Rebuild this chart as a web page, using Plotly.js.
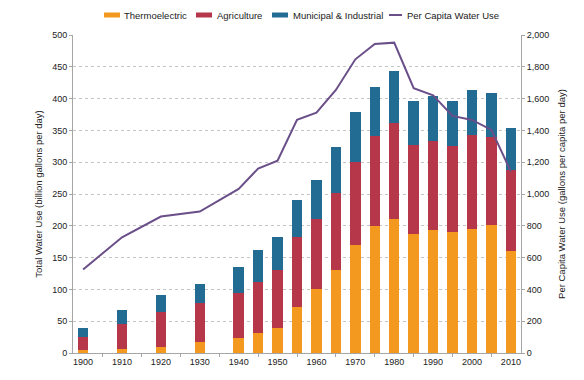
<!DOCTYPE html>
<html>
<head>
<meta charset="utf-8">
<script src="https://cdn.plot.ly/plotly-3.0.1.min.js"></script>
<style>html,body{margin:0;padding:0;background:#fff;}#chart{width:584px;height:380px;}</style>
</head>
<body>
<div id="chart"></div>
<script>
// Data
const years = [1900, 1910, 1920, 1930, 1940, 1945, 1950, 1955, 1960, 1965, 1970, 1975, 1980, 1985, 1990, 1995, 2000, 2005, 2010];
const thermoelectric = [5, 7, 9, 18, 23, 31, 40, 72, 100, 130, 170, 200, 210, 187, 194, 191, 195, 201, 161];
const agricultureTop = [25, 46, 64, 78, 94, 112, 130, 183, 211, 251, 301, 341, 362, 327, 333, 326, 342, 339, 287];
const totalUse = [40, 67, 91, 109, 136, 162, 183, 241, 272, 324, 379, 419, 444, 397, 404, 397, 413, 409, 354];
const perCapita = [525, 728, 858, 890, 1032, 1160, 1210, 1466, 1512, 1654, 1847, 1943, 1952, 1665, 1621, 1491, 1466, 1403, 1141];
const decadeTicks = [1900, 1910, 1920, 1930, 1940, 1950, 1960, 1970, 1980, 1990, 2000, 2010];
const seriesNames = ['Thermoelectric', 'Agriculture', 'Municipal & Industrial', 'Per Capita Water Use'];
const seriesColors = ['#F4991F', '#B6374A', '#226B92', '#6A4F89'];

const agriculture = agricultureTop.map((v, i) => v - thermoelectric[i]);
const municipal = totalUse.map((v, i) => v - agricultureTop[i]);

const fam = 'Liberation Sans, Arial, sans-serif';
const txt = '#222';
const barWidth = 2.7;
const W = 584, H = 380, M = {l: 73, r: 63, t: 35, b: 27};
const pw = W - M.l - M.r, ph = H - M.t - M.b;
const px = x => (x - M.l) / pw;
const py = y => (H - M.b - y) / ph;

const traces = [
  {type: 'bar', name: seriesNames[0], x: years, y: thermoelectric, width: barWidth, marker: {color: seriesColors[0]}},
  {type: 'bar', name: seriesNames[1], x: years, y: agriculture, width: barWidth, marker: {color: seriesColors[1]}},
  {type: 'bar', name: seriesNames[2], x: years, y: municipal, width: barWidth, marker: {color: seriesColors[2]}},
  {type: 'scatter', mode: 'lines', name: seriesNames[3], x: years, y: perCapita, yaxis: 'y2', line: {color: seriesColors[3], width: 2}}
];

// Custom legend (swatch + label), laid out in pixels above the plot
const legendSwatchX = [104, 196, 272, 389];
const legendTextX = [122, 215, 291, 405];
const legendY = 15;
const shapes = [], annotations = [];
seriesNames.forEach((name, i) => {
  if (i < 3) {
    shapes.push({type: 'rect', xref: 'paper', yref: 'paper', x0: px(legendSwatchX[i]), x1: px(legendSwatchX[i] + 16),
                 y0: py(legendY - 2.5), y1: py(legendY + 2.5), fillcolor: seriesColors[i], line: {width: 0}});
  } else {
    shapes.push({type: 'line', xref: 'paper', yref: 'paper', x0: px(legendSwatchX[i]), x1: px(legendSwatchX[i] + 13),
                 y0: py(legendY), y1: py(legendY), line: {color: seriesColors[i], width: 2}});
  }
  annotations.push({xref: 'paper', yref: 'paper', x: px(legendTextX[i]), y: py(legendY), xanchor: 'left', yanchor: 'middle',
                    text: name, showarrow: false, font: {family: fam, size: 9.5, color: txt}});
});

const layout = {
  width: W, height: H,
  margin: M,
  paper_bgcolor: '#fff', plot_bgcolor: '#fff',
  barmode: 'stack',
  font: {family: fam, size: 9, color: txt},
  showlegend: false,
  shapes: shapes,
  annotations: annotations,
  xaxis: {type: 'linear', range: [1897.4, 2012.6], tickvals: decadeTicks, ticktext: decadeTicks.map(String),
          ticks: '', showline: true, linecolor: '#a6a6a6', linewidth: 1, showgrid: false, zeroline: false,
          tickfont: {family: fam, size: 9, color: txt},
          minor: {tick0: 1905, dtick: 10, ticks: 'outside', ticklen: 3, tickcolor: '#a6a6a6', showgrid: false}},
  yaxis: {range: [0, 500], dtick: 50, showline: true, linecolor: '#a6a6a6', linewidth: 1,
          ticks: 'outside', ticklen: 3, tickcolor: '#a6a6a6',
          showgrid: true, gridcolor: '#c4c4c4', griddash: 'dot', gridwidth: 1, zeroline: false,
          tickfont: {family: fam, size: 9, color: txt},
          title: {text: 'Total Water Use (billion gallons per day)', font: {family: fam, size: 9.5, color: txt}, standoff: 7}},
  yaxis2: {range: [0, 2000], dtick: 200, overlaying: 'y', side: 'right', tickformat: ',d',
           showline: true, linecolor: '#a6a6a6', linewidth: 1, ticks: 'outside', ticklen: 3, tickcolor: '#a6a6a6',
           showgrid: false, zeroline: false,
           tickfont: {family: fam, size: 9, color: txt},
           title: {text: 'Per Capita Water Use (gallons per capita per day)', font: {family: fam, size: 9.5, color: txt}, standoff: 10}}
};

Plotly.newPlot('chart', traces, layout, {displayModeBar: false, staticPlot: true});
</script>
</body>
</html>
